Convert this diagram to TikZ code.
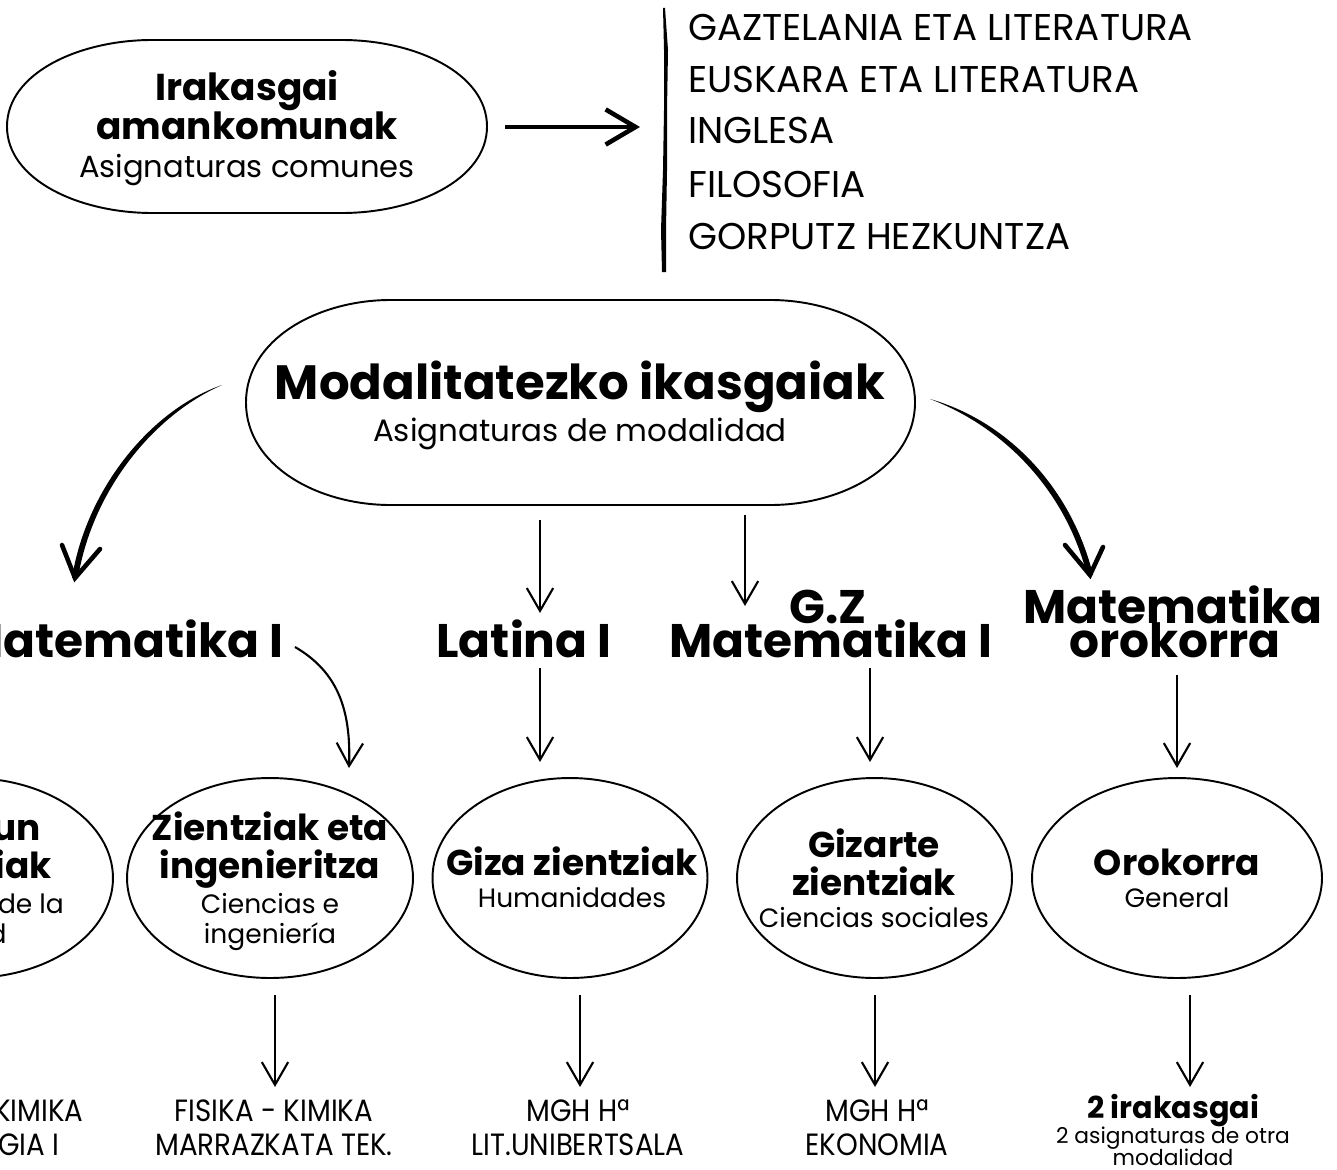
\documentclass[tikz,border=0pt]{standalone}
\usepackage{fontspec}
\setmainfont{Poppins}
\newfontfamily\condf[FakeStretch=0.9]{Poppins}
\usetikzlibrary{arrows.meta,calc,shapes.geometric}
\newcommand\myfs[1]{\fontsize{#1pt}{#1pt}\selectfont}
% superellipse-like pill: #1 centre node, #2 half width, #3 half height, #4 flat half
\newcommand\pillshape[4]{%
  \draw[line width=1.1pt]
    ($(#1)+(-#2,0)$) .. controls ($(#1)+(-#2,-0.62*#3)$) and ($(#1)+(-#4-0.5*#2+0.5*#4,-#3)$) .. ($(#1)+(-#4,-#3)$)
    -- ($(#1)+(#4,-#3)$) .. controls ($(#1)+(#4+0.5*#2-0.5*#4,-#3)$) and ($(#1)+(#2,-0.62*#3)$) .. ($(#1)+(#2,0)$)
    .. controls ($(#1)+(#2,0.62*#3)$) and ($(#1)+(#4+0.5*#2-0.5*#4,#3)$) .. ($(#1)+(#4,#3)$)
    -- ($(#1)+(-#4,#3)$) .. controls ($(#1)+(-#4-0.5*#2+0.5*#4,#3)$) and ($(#1)+(-#2,0.62*#3)$) .. cycle;}
\begin{document}
\begin{tikzpicture}[x=0.02cm,y=-0.02cm,
  txt/.style={inner sep=0pt, anchor=base},
  bigT/.style={txt, font={\myfs{27.4}\bfseries}},
  ttlT/.style={txt, font={\myfs{26.8}\bfseries}},
  topB/.style={txt, font={\myfs{21.3}\bfseries}},
  topS/.style={txt, font={\myfs{17.4}}},
  modS/.style={txt, font={\myfs{17.6}}},
  elB/.style={txt, font={\myfs{20.4}\bfseries}},
  elS/.style={txt, font={\myfs{15.1}}},
  listT/.style={txt, anchor=base west, font={\myfs{21.2}}},
  botT/.style={txt, font={\condf\myfs{17.5}}},
  oval/.style={draw, ellipse, line width=1.1pt, inner sep=0pt, minimum width=5.72cm, minimum height=4cm},
  thinarr/.style={line width=1.2pt, -{Straight Barb[length=13pt,width=15pt]}},
  thickarr/.style={line width=2.6pt, -{Straight Barb[length=17pt,width=20pt]}},
  head/.style={line width=2.6pt, line cap=round, line join=miter}
]
\useasboundingbox (0,0) rectangle (1337,1169);
\clip (0,0) rectangle (1337,1169);

% ---------- top common subjects ----------
\node[inner sep=0pt, minimum width=9.6cm, minimum height=3.46cm] (common) at (247,126.5) {};
\pillshape{common}{240}{86.5}{95}
\node[topB] (c1) at (247,101) {Irakasgai};
\node[topB] (c2) at (247,140) {amankomunak};
\node[topS] (c3) at (247,177) {Asignaturas comunes};

\coordinate (ha) at (505,127);
\coordinate (hb) at (640,127);
\draw[thickarr] (ha) -- (hb);

% rough vertical line
\fill (665,8) -- (668,50) -- (667,110) -- (667,170) -- (666,230) -- (666,272) -- (662,272) -- (661,230) -- (663,170) -- (664,110) -- (664,50) -- (663,8) -- cycle;

\node[listT] (l1) at (688,41) {GAZTELANIA ETA LITERATURA};
\node[listT] (l2) at (688,93) {EUSKARA ETA LITERATURA};
\node[listT] (l3) at (688,144) {INGLESA};
\node[listT] (l4) at (688,197) {FILOSOFIA};
\node[listT] (l5) at (688,249) {GORPUTZ HEZKUNTZA};

% ---------- modality subjects ----------
\node[inner sep=0pt, minimum width=13.38cm, minimum height=4.1cm] (mod) at (580.5,402.5) {};
\pillshape{mod}{334.5}{102.5}{190}
\node[bigT] (m1) at (580,399) {Modalitatezko ikasgaiak};
\node[modS] (m2) at (580,441) {Asignaturas de modalidad};

% curved thick arrows
\coordinate (lcS) at (222,385);
\coordinate (lcE) at (75,578);
\fill (lcS) .. controls (150,410) and (86,490) .. ($(lcE)+(-3,0)$) -- ($(lcE)+(3,0)$) .. controls (92,492) and (152,416) .. (lcS) -- cycle;
\draw[head] (62,545) -- (lcE) -- (100,549);

\coordinate (rcS) at (930,399);
\coordinate (rcE) at (1090,575);
\fill (rcS) .. controls (1010,422) and (1072,490) .. ($(rcE)+(3,0)$) -- ($(rcE)+(-3,0)$) .. controls (1066,492) and (1006,428) .. (rcS) -- cycle;
\draw[head] (1065,545) -- (rcE) -- (1103,547);

\coordinate (a1s) at (540,520); \coordinate (a1e) at (540,613);
\coordinate (a2s) at (745,515); \coordinate (a2e) at (745,606);
\draw[thinarr] (a1s) -- (a1e);
\draw[thinarr] (a2s) -- (a2e);

% titles
\node[ttlT, anchor=base east] (matL) at (284,657) {Matematika I};
\node[ttlT] (lat) at (524,657) {Latina I};
\node[ttlT] (gz1) at (828,623) {G.Z};
\node[ttlT] (gz2) at (831,657) {Matematika I};
\node[ttlT] (mo1) at (1173,623) {Matematika};
\node[ttlT] (mo2) at (1175,657) {orokorra};

% thin curved arrow
\coordinate (caS) at (295,647);
\coordinate (caE) at (349,768);
\draw[thinarr] (caS) .. controls (338,672) and (351,710) .. (caE);

\coordinate (b1s) at (540,668); \coordinate (b1e) at (540,762);
\coordinate (b2s) at (870,668); \coordinate (b2e) at (870,762);
\coordinate (b3s) at (1177,675); \coordinate (b3e) at (1177,768);
\draw[thinarr] (b1s) -- (b1e);
\draw[thinarr] (b2s) -- (b2e);
\draw[thinarr] (b3s) -- (b3e);

% ---------- modality ovals ----------
\node[oval] (osa) at (-30,878) {};
\node[elB] (o1) at (-30,840) {Osasun};
\node[elB] (o2) at (-30,878) {zientziak};
\node[elS] (o3) at (-30,913) {Ciencias de la};
\node[elS] (o4) at (-30,943) {salud};

\node[oval] (zie) at (270,878) {};
\node[elB] (z1) at (270,840) {Zientziak eta};
\node[elB] (z2) at (270,878) {ingenieritza};
\node[elS] (z3) at (270,913) {Ciencias e};
\node[elS] (z4) at (270,943) {ingeniería};

\node[oval, minimum width=5.5cm] (giz) at (570,878) {};
\node[elB] (g1) at (572,875) {Giza zientziak};
\node[elS] (g2) at (572,907) {Humanidades};

\node[oval, minimum width=5.5cm] (gzt) at (874.5,878) {};
\node[elB] (s1) at (874,857) {Gizarte};
\node[elB] (s2) at (874,895) {zientziak};
\node[elS] (s3) at (874,927) {Ciencias sociales};

\node[oval, minimum width=5.8cm] (oro) at (1177,878) {};
\node[elB] (r1) at (1177,875) {Orokorra};
\node[elS] (r2) at (1177,907) {General};

% bottom arrows
\coordinate (d1s) at (275,995); \coordinate (d1e) at (275,1087);
\coordinate (d2s) at (580,995); \coordinate (d2e) at (580,1087);
\coordinate (d3s) at (875,995); \coordinate (d3e) at (875,1087);
\coordinate (d4s) at (1190,995); \coordinate (d4e) at (1190,1087);
\draw[thinarr] (d1s) -- (d1e);
\draw[thinarr] (d2s) -- (d2e);
\draw[thinarr] (d3s) -- (d3e);
\draw[thinarr] (d4s) -- (d4e);

% bottom texts
\node[botT, anchor=base east] (x1) at (84,1121) {FISIKA - KIMIKA};
\node[botT, anchor=base east] (x2) at (60,1155) {BIOLOGIA I};
\node[botT] (y1) at (274,1121) {FISIKA - KIMIKA};
\node[botT] (y2) at (274,1155) {MARRAZKATA TEK.};
\node[botT] (w1) at (578,1121) {MGH Hª};
\node[botT] (w2) at (578,1155) {LIT.UNIBERTSALA};
\node[botT] (v1) at (877,1121) {MGH Hª};
\node[botT] (v2) at (877,1155) {EKONOMIA};
\node[txt, font={\myfs{17.2}\bfseries}] (u1) at (1173,1118) {2 irakasgai};
\node[txt, font={\myfs{12.4}}] (u2) at (1173,1143) {2 asignaturas de otra};
\node[txt, font={\myfs{12.4}}] (u3) at (1173,1165) {modalidad};
\end{tikzpicture}
\end{document}
